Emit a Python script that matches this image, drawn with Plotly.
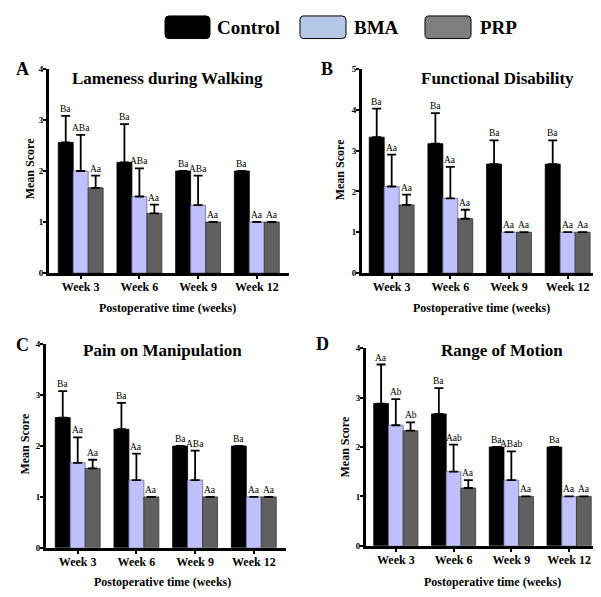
import plotly.graph_objects as go

W, H = 601, 597
OFF = 8  # page body margin around the plot
FW, FH = W - OFF, H - OFF

weeks = ["Week 3", "Week 6", "Week 9", "Week 12"]
groups = ["Control", "BMA", "PRP"]

# Panel A - Lameness during Walking
a_ctrl = [2.56, 2.17, 2.0, 2.0]
a_ctrl_err = [0.52, 0.75, 0, 0]
a_bma = [2.0, 1.5, 1.33, 1.0]
a_bma_err = [0.71, 0.55, 0.58, 0]
a_prp = [1.67, 1.17, 1.0, 1.0]
a_prp_err = [0.24, 0.17, 0, 0]
a_lab_ctrl = ["Ba", "Ba", "Ba", "Ba"]
a_lab_bma = ["ABa", "ABa", "ABa", "Aa"]
a_lab_prp = ["Aa", "Aa", "Aa", "Aa"]

# Panel B - Functional Disability
b_ctrl = [3.33, 3.17, 2.67, 2.67]
b_ctrl_err = [0.70, 0.75, 0.58, 0.58]
b_bma = [2.12, 1.83, 1.0, 1.0]
b_bma_err = [0.78, 0.77, 0, 0]
b_prp = [1.67, 1.33, 1.0, 1.0]
b_prp_err = [0.25, 0.22, 0, 0]
b_lab_ctrl = ["Ba", "Ba", "Ba", "Ba"]
b_lab_bma = ["Aa", "Aa", "Aa", "Aa"]
b_lab_prp = ["Aa", "Aa", "Aa", "Aa"]

# Panel C - Pain on Manipulation
c_ctrl = [2.56, 2.33, 2.0, 2.0]
c_ctrl_err = [0.52, 0.52, 0, 0]
c_bma = [1.67, 1.33, 1.33, 1.0]
c_bma_err = [0.50, 0.52, 0.58, 0]
c_prp = [1.56, 1.0, 1.0, 1.0]
c_prp_err = [0.17, 0, 0, 0]
c_lab_ctrl = ["Ba", "Ba", "Ba", "Ba"]
c_lab_bma = ["Aa", "Aa", "ABa", "Aa"]
c_lab_prp = ["Aa", "Aa", "Aa", "Aa"]

# Panel D - Range of Motion
d_ctrl = [2.88, 2.67, 2.0, 2.0]
d_ctrl_err = [0.79, 0.52, 0, 0]
d_bma = [2.44, 1.5, 1.33, 1.0]
d_bma_err = [0.53, 0.55, 0.58, 0]
d_prp = [2.33, 1.17, 1.0, 1.0]
d_prp_err = [0.17, 0.16, 0, 0]
d_lab_ctrl = ["Aa", "Ba", "Ba", "Ba"]
d_lab_bma = ["Ab", "Aab", "ABab", "Aa"]
d_lab_prp = ["Ab", "Aa", "Aa", "Aa"]

panels = [
    dict(letter="A", title="Lameness during Walking", ymax=4,
         series=[(a_ctrl, a_ctrl_err, a_lab_ctrl), (a_bma, a_bma_err, a_lab_bma), (a_prp, a_prp_err, a_lab_prp)],
         xpx=(49, 288.5), ypx=(65, 272.5), xr=(-0.54, 3.54),
         title_pos=(167, 75), letter_pos=(22, 65), ytitle_pos=(30, 167), xtitle_pos=(167, 308)),
    dict(letter="B", title="Functional Disability", ymax=5,
         series=[(b_ctrl, b_ctrl_err, b_lab_ctrl), (b_bma, b_bma_err, b_lab_bma), (b_prp, b_prp_err, b_lab_prp)],
         xpx=(362, 597), ypx=(65, 272.5), xr=(-0.506, 3.50),
         title_pos=(497, 75), letter_pos=(327, 65), ytitle_pos=(340, 167), xtitle_pos=(481, 308)),
    dict(letter="C", title="Pain on Manipulation", ymax=4,
         series=[(c_ctrl, c_ctrl_err, c_lab_ctrl), (c_bma, c_bma_err, c_lab_bma), (c_prp, c_prp_err, c_lab_prp)],
         xpx=(46, 285.5), ypx=(345, 552), xr=(-0.54, 3.54),
         title_pos=(162, 351), letter_pos=(22, 346), ytitle_pos=(25, 447), xtitle_pos=(162, 587)),
    dict(letter="D", title="Range of Motion", ymax=4,
         series=[(d_ctrl, d_ctrl_err, d_lab_ctrl), (d_bma, d_bma_err, d_lab_bma), (d_prp, d_prp_err, d_lab_prp)],
         xpx=(366, 598), ypx=(349, 550), xr=(-0.516, 3.50),
         title_pos=(502, 351), letter_pos=(322, 345), ytitle_pos=(345, 450), xtitle_pos=(492, 587)),
]

bar_colors = ["#000000", "#c0c0ff", "#606060"]
bar_lines = ["#000000", "#6a6a8a", "#333333"]
legend_colors = ["#000000", "#b4c7e7", "#7f7f7f"]
SERIF = "Liberation Serif"


def px(x, y):
    return (x - OFF) / FW, 1 - (y - OFF) / FH


def rounded_rect(x0, y0, x1, y1, r=4):
    # corners given in page pixels; returns an SVG path in paper coordinates
    pts = []
    def P(x, y):
        a, b = px(x, y)
        return f"{a:.5f},{b:.5f}"
    return (f"M {P(x0 + r, y0)} L {P(x1 - r, y0)} Q {P(x1, y0)} {P(x1, y0 + r)} "
            f"L {P(x1, y1 - r)} Q {P(x1, y1)} {P(x1 - r, y1)} "
            f"L {P(x0 + r, y1)} Q {P(x0, y1)} {P(x0, y1 - r)} "
            f"L {P(x0, y0 + r)} Q {P(x0, y0)} {P(x0 + r, y0)} Z")


fig = go.Figure()
annotations = []
shapes = []
bw = 0.255
offsets = [-bw, 0, bw]
xi = list(range(len(weeks)))

for k, p in enumerate(panels):
    n = "" if k == 0 else str(k + 1)
    xa, ya = "x" + n, "y" + n
    for s, (vals, errs, labs) in enumerate(p["series"]):
        xs = [i + offsets[s] for i in xi]
        err_arr = [e if e > 0 else None for e in errs]
        fig.add_trace(go.Bar(
            x=xs, y=vals, width=bw, xaxis=xa, yaxis=ya,
            name=groups[s], showlegend=False,
            marker=dict(color=bar_colors[s], line=dict(color=bar_lines[s], width=0.8)),
            error_y=dict(type="data", array=err_arr, arrayminus=[0] * 4, symmetric=False,
                         color="#000000", thickness=1.8, width=4.5, visible=True),
        ))
        for i in xi:
            annotations.append(dict(
                x=xs[i], y=vals[i] + errs[i], xref=xa, yref=ya, text=labs[i],
                showarrow=False, yanchor="bottom", yshift=0,
                font=dict(family=SERIF, size=9.5, color="#000000")))
    x0, x1 = p["xpx"]
    yt, yb = p["ypx"]
    dx0, _ = px(x0, 0)
    dx1, _ = px(x1, 0)
    _, dy0 = px(0, yb)
    _, dy1 = px(0, yt)
    xaxis = dict(domain=[dx0, dx1], range=list(p["xr"]), anchor=ya,
                 tickvals=xi, ticktext=weeks, showline=True, linecolor="#000000", linewidth=3,
                 ticks="outside", ticklen=3, tickwidth=2, tickcolor="#000000",
                 ticklabelstandoff=-2,
                 showgrid=False, zeroline=False,
                 tickfont=dict(family=SERIF, size=12, color="#000000", weight="bold"))
    yaxis = dict(domain=[dy0, dy1], range=[0, p["ymax"]], anchor=xa,
                 dtick=1, showline=True, linecolor="#000000", linewidth=3,
                 ticks="outside", ticklen=3, tickwidth=2, tickcolor="#000000",
                 ticklabelstandoff=-2,
                 showgrid=False, zeroline=False,
                 tickfont=dict(family=SERIF, size=9, color="#000000", weight="bold"))
    fig.layout["xaxis" + n] = xaxis
    fig.layout["yaxis" + n] = yaxis

    tx, ty = px(*p["title_pos"])
    annotations.append(dict(x=tx, y=ty, xref="paper", yref="paper", text=p["title"], showarrow=False,
                            xanchor="center", yanchor="middle",
                            font=dict(family=SERIF, size=17, color="#000000", weight="bold")))
    lx, ly = px(*p["letter_pos"])
    annotations.append(dict(x=lx, y=ly, xref="paper", yref="paper", text=p["letter"], showarrow=False,
                            xanchor="center", yanchor="middle",
                            font=dict(family=SERIF, size=18, color="#000000", weight="bold")))
    yx, yy = px(*p["ytitle_pos"])
    annotations.append(dict(x=yx, y=yy, xref="paper", yref="paper", text="Mean Score", showarrow=False,
                            textangle=-90, xanchor="center", yanchor="middle",
                            font=dict(family=SERIF, size=12, color="#000000", weight="bold")))
    xx, xy = px(*p["xtitle_pos"])
    annotations.append(dict(x=xx, y=xy, xref="paper", yref="paper", text="Postoperative time (weeks)",
                            showarrow=False, xanchor="center", yanchor="middle",
                            font=dict(family=SERIF, size=12, color="#000000", weight="bold")))

# Legend boxes (drawn as rounded shapes) and labels
legend_boxes = [(165, 210), (300, 346), (425, 471)]
legend_text_x = [215, 352, 478]
for s in range(3):
    bx0, bx1 = legend_boxes[s]
    shapes.append(dict(type="path", xref="paper", yref="paper",
                       path=rounded_rect(bx0, 11, bx1, 34, r=4),
                       fillcolor=legend_colors[s], line=dict(color="#000000", width=1)))
    tx, ty = px(legend_text_x[s], 23)
    annotations.append(dict(x=tx, y=ty, xref="paper", yref="paper", text=groups[s], showarrow=False,
                            xanchor="left", yanchor="middle",
                            font=dict(family=SERIF, size=19, color="#000000", weight="bold")))

fig.update_layout(width=FW, height=FH, margin=dict(l=0, r=0, t=0, b=0),
                  paper_bgcolor="white", plot_bgcolor="white",
                  barmode="overlay", annotations=annotations, shapes=shapes,
                  showlegend=False)

fig.write_html("out.html")
